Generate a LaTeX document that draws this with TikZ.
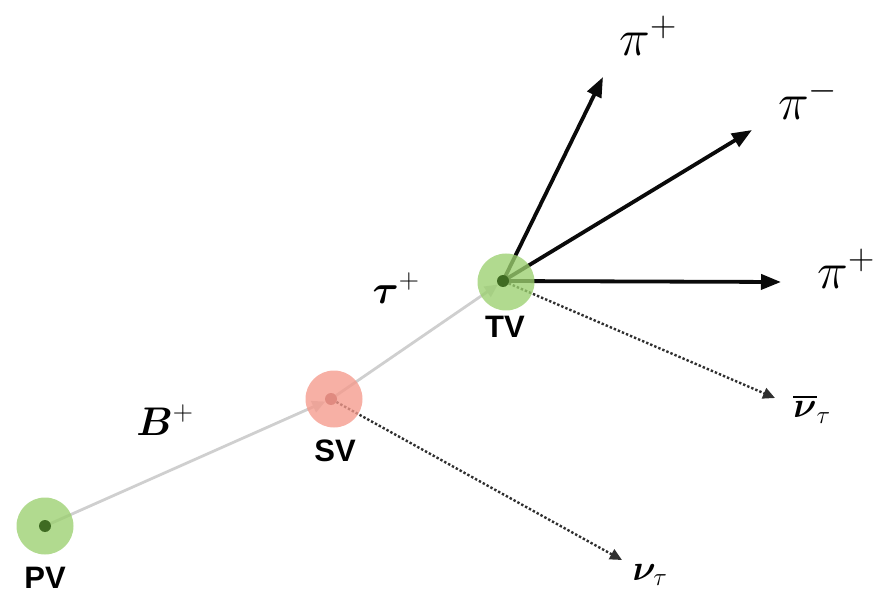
\RequirePackage{fix-cm}
\documentclass[tikz,border=0pt]{standalone}
\usepackage{amsmath,amssymb,bm}
\usepackage{fontspec}
\setsansfont{Liberation Sans}
\usepackage{tikz}
\usetikzlibrary{arrows.meta,backgrounds,positioning}
\definecolor{pdGreen}{HTML}{9BD06F}
\definecolor{pdGreenDot}{HTML}{3F6B22}
\definecolor{pdRed}{HTML}{F59A8C}
\definecolor{pdRedDot}{HTML}{E08A80}
\definecolor{pdTrack}{HTML}{CFCFCF}
\definecolor{pdInk}{HTML}{0A0A0A}
\tikzset{
  pd diagram/.style={x=1pt, y=-1pt, line cap=butt, line join=round},
  pd ring/.style={circle, minimum size=57pt, inner sep=0pt, fill opacity=0.78},
  pd dot/.style={circle, minimum size=12pt, inner sep=0pt},
  pd track/.style={draw=pdTrack, line width=2.8pt,
    -{Triangle[length=13pt, width=12pt]}},
  pd prong/.style={draw=pdInk, line width=3.8pt,
    -{Triangle[length=20pt, width=15pt]}},
  pd nu/.style={draw=pdInk!85, line width=2.4pt, dotted,
    -{Triangle[length=12pt, width=11pt]}},
  pd vtx label/.style={font=\sffamily\bfseries\fontsize{31}{34}\selectfont, text=black},
  pd pion/.style={font=\fontsize{52}{58}\selectfont},
  pd heavy/.style={font=\fontsize{40}{46}\selectfont},
  pd nu label/.style={font=\fontsize{36}{42}\selectfont}
}
\begin{document}
\begin{tikzpicture}[pd diagram]
\useasboundingbox (0,0) rectangle (879,596);
% vertices
\node[pd ring, fill=pdGreen] (pvring) at (45,526) {};
\node[pd ring, fill=pdRed] (svring) at (334,399) {};
\node[pd ring, fill=pdGreen] (tvring) at (506,282) {};
\node[pd dot, fill=pdGreenDot] (pv) at (45,526) {};
\node[pd dot, fill=pdRedDot] (sv) at (331,399) {};
\node[pd dot, fill=pdGreenDot] (tv) at (503,281) {};
\node[pd vtx label] (pvtext) at (45,578) {PV};
\node[pd vtx label] (svtext) at (335,451) {SV};
\node[pd vtx label] (tvtext) at (505,327) {TV};
% free ends
\coordinate (piA) at (603,77);
\coordinate (piB) at (752,130);
\coordinate (piC) at (781,282);
\coordinate (nuA) at (622,560);
\coordinate (nuB) at (775,398);
\begin{scope}[on background layer]
\draw[pd track] (pv) -- (sv);
\draw[pd track] (sv) -- (tv);
\draw[pd prong] (tv.center) -- (piA);
\draw[pd prong] (tv.center) -- (piB);
\draw[pd prong] (tv.center) -- (piC);
\draw[pd nu] (sv) -- (nuA);
\draw[pd nu] (tv) -- (nuB);
\end{scope}
% particle names
\node[pd pion] (piAtext) at (648,36) {$\pi^{+}$};
\node[pd pion] (piBtext) at (808,99) {$\pi^{-}$};
\node[pd pion] (piCtext) at (846,269) {$\pi^{+}$};
\node[pd heavy] (btext) at (165,420) {$\bm{B}^{+}$};
\node[pd heavy] (tautext) at (396,288) {$\bm{\tau}^{+}$};
\node[pd nu label] (nuAtext) at (650,575) {$\bm{\nu}_{\tau}$};
\node[pd nu label] (nuBtext) at (812,409) {$\overline{\bm{\nu}}_{\tau}$};
\end{tikzpicture}
\end{document}
